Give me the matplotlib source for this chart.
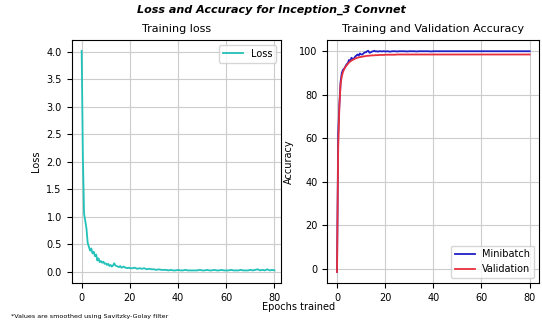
import numpy as np
import matplotlib
matplotlib.use('Agg')
import matplotlib.pyplot as plt

# epochs: half-epoch steps up to 20, then one per epoch
epochs = np.concatenate([np.arange(0, 20.5, 0.5), np.arange(21, 81, 1)])

# 1. training loss
loss = [4.02, 2.10, 1.05, 0.92, 0.78, 0.52, 0.45, 0.38, 0.42, 0.33,
        0.36, 0.28, 0.31, 0.20, 0.24, 0.17, 0.19, 0.16, 0.18, 0.14,
        0.15, 0.12, 0.14, 0.10, 0.12, 0.09, 0.11, 0.15, 0.11, 0.10,
        0.09, 0.08, 0.10, 0.07, 0.08, 0.09, 0.07, 0.07, 0.06, 0.07,
        0.06,
        0.06, 0.07, 0.05, 0.06, 0.05, 0.06, 0.04, 0.05, 0.04, 0.04,
        0.03, 0.04, 0.03, 0.03, 0.03, 0.02, 0.03, 0.02, 0.02, 0.03,
        0.02, 0.02, 0.03, 0.02, 0.02, 0.02, 0.02, 0.02, 0.03, 0.02,
        0.02, 0.03, 0.02, 0.02, 0.03, 0.02, 0.02, 0.03, 0.02, 0.02,
        0.02, 0.03, 0.02, 0.02, 0.02, 0.03, 0.02, 0.02, 0.02, 0.03,
        0.02, 0.03, 0.04, 0.02, 0.03, 0.02, 0.04, 0.02, 0.03, 0.02]

# 2. accuracy (minibatch and validation)
minibatch = [-1.5, 62, 76, 86, 90, 91.5, 92, 93, 94, 94.5,
             96, 95.5, 97, 96.5, 96.5, 97.5, 98, 98.5, 98, 99,
             98.5, 98.5, 99, 99.5, 99.5, 100, 100.2, 99.3, 99.5, 99.8,
             100, 100.2, 99.9, 100, 99.8, 100, 100, 99.9, 100, 100,
             99.9,
             100, 99.8, 100, 100, 99.9, 100, 100, 100, 99.9, 100,
             100, 100, 99.9, 100, 100, 100, 100, 100, 99.9, 100,
             100, 100, 100, 100, 100, 100, 100, 100, 100, 100,
             100, 100, 100, 100, 100, 100, 100, 100, 100, 100,
             100, 100, 100, 100, 100, 100, 100, 100, 100, 100,
             100, 100, 100, 100, 100, 100, 100, 100, 100, 100]
validation = [-1.5, 56, 75, 85, 88.5, 90.5, 91.8, 92.8, 93.5, 94.2,
              94.8, 95.3, 95.7, 96.0, 96.3, 96.6, 96.8, 97.0, 97.2, 97.3,
              97.4, 97.5, 97.6, 97.7, 97.8, 97.9, 97.9, 98.0, 98.0, 98.1,
              98.1, 98.1, 98.2, 98.2, 98.2, 98.3, 98.3, 98.3, 98.3, 98.3,
              98.4,
              98.4, 98.4, 98.4, 98.4, 98.5, 98.5, 98.5, 98.5, 98.5, 98.5,
              98.5, 98.5, 98.5, 98.5, 98.5, 98.5, 98.5, 98.5, 98.5, 98.5,
              98.5, 98.5, 98.5, 98.5, 98.5, 98.5, 98.5, 98.5, 98.5, 98.5,
              98.5, 98.5, 98.5, 98.5, 98.5, 98.5, 98.5, 98.5, 98.5, 98.5,
              98.5, 98.5, 98.5, 98.5, 98.5, 98.5, 98.5, 98.5, 98.5, 98.5,
              98.5, 98.5, 98.5, 98.5, 98.5, 98.5, 98.5, 98.5, 98.5, 98.5]

plt.rcParams['font.size'] = 7

fig = plt.figure(figsize=(5.42, 3.22), dpi=100)
ax1 = fig.add_axes([0.132, 0.121, 0.386, 0.755])
ax2 = fig.add_axes([0.604, 0.121, 0.391, 0.755])

ax1.plot(epochs, loss, color='#22c1b9', lw=1.3, label='Loss')
ax1.set_title('Training loss', fontsize=8)
ax1.set_ylabel('Loss')
ax1.set_xlim(-4.2, 82.6)
ax1.set_ylim(-0.21, 4.22)
ax1.set_yticks(np.arange(0, 4.5, 0.5))
ax1.grid(True, color='#cccccc')
ax1.legend(loc='upper right')

ax2.plot(epochs, minibatch, color='#1f1fc8', lw=1.3, label='Minibatch')
ax2.plot(epochs, validation, color='#e8303c', lw=1.3, label='Validation')
ax2.set_title('Training and Validation Accuracy', fontsize=8)
ax2.set_ylabel('Accuracy')
ax2.set_xlim(-4, 84)
ax2.set_ylim(-6.6, 105.2)
ax2.grid(True, color='#cccccc')
ax2.legend(loc='lower right')

for ax in (ax1, ax2):
    ax.set_xticks([0, 20, 40, 60, 80])
    ax.set_axisbelow(True)

fig.suptitle('Loss and Accuracy for Inception_3 Convnet', fontsize=8,
             fontweight='bold', fontstyle='italic', y=0.985)
fig.text(0.55, 0.048, 'Epochs trained', ha='center', va='center', fontsize=7)
fig.text(0.02, 0.012, '*Values are smoothed using Savitzky-Golay filter', fontsize=4.6)

plt.savefig('out.png', dpi=100)
